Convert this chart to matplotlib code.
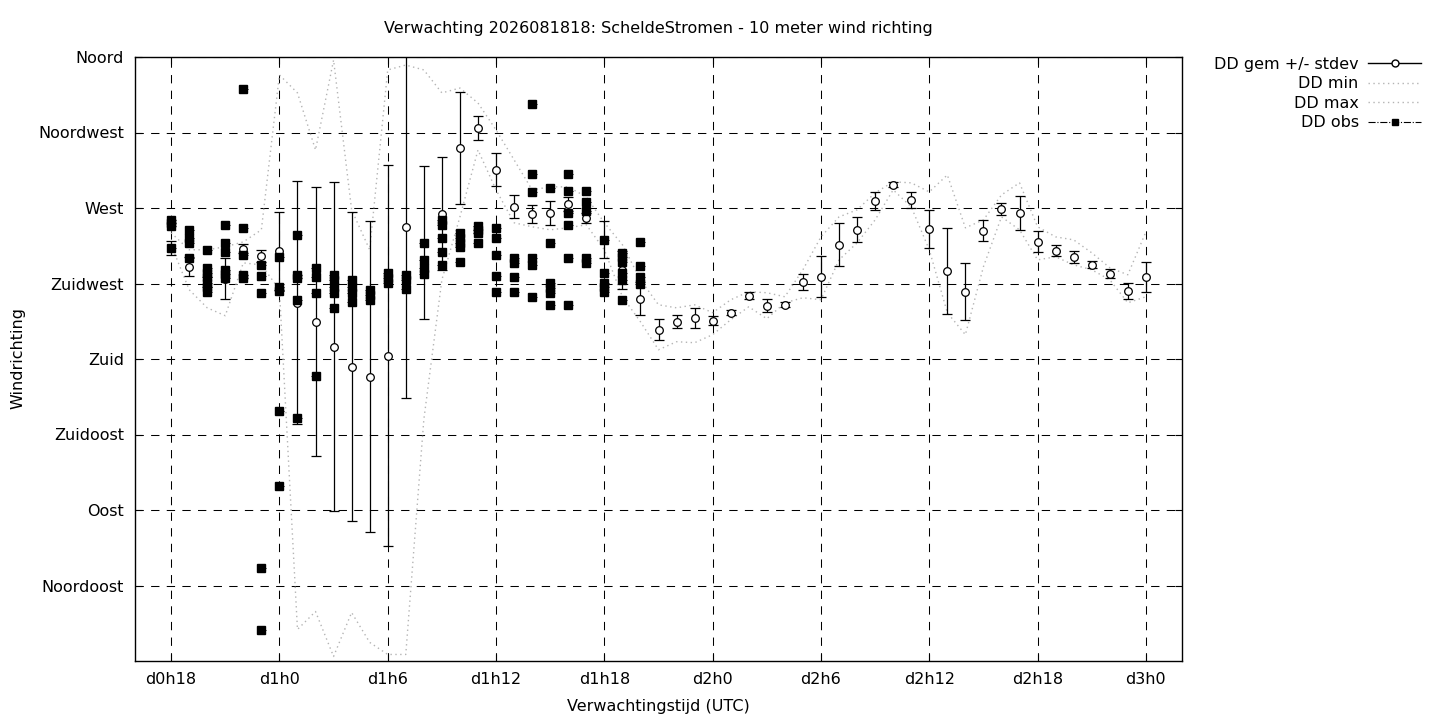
"""Gnuplot-style wind direction forecast chart (ScheldeStromen)."""

import matplotlib

matplotlib.use("Agg")

import matplotlib.pyplot as plt
from matplotlib.lines import Line2D

# forecast hours since d0h0
hours = list(range(18, 73))

# mean wind direction (degrees) and stdev
dd_mean = [
    246.3, 235.0, 226.0, 227.8, 245.7, 241.5, 244.5, 213.5, 202.2, 187.3,
    175.4, 169.5, 182.0, 258.8, 249.2, 266.5, 305.8, 317.7, 292.7, 270.7,
    266.5, 267.1, 272.5, 264.1, 251.0, 233.2, 215.9, 197.4, 202.2, 204.6,
    202.8, 207.6, 217.7, 211.7, 212.3, 226.0, 229.0, 248.1, 257.0, 274.3,
    283.8, 274.9, 257.6, 232.6, 220.1, 256.4, 269.5, 267.1, 249.8, 244.5,
    240.9, 236.1, 230.8, 220.7, 229.0,
]
dd_std = [
    4.2, 5.7, 3.0, 12.2, 2.7, 3.6, 23.2, 72.3, 80.1, 98.0,
    92.0, 92.6, 113.7, 101.8, 45.6, 33.6, 33.6, 7.1, 9.8, 6.8,
    5.4, 7.1, 4.2, 3.0, 11.0, 11.3, 9.8, 6.3, 3.9, 6.0,
    2.7, 1.5, 2.1, 3.9, 1.5, 4.8, 12.2, 12.8, 7.4, 5.4,
    1.5, 4.8, 11.3, 25.6, 17.0, 6.3, 3.6, 10.1, 6.3, 3.3,
    3.6, 2.1, 2.7, 4.8, 8.9,
]
dd_min = [
    248.1, 221.3, 210.5, 205.8, 237.3, 236.1, 221.3, 18.8, 29.5, 2.7,
    28.9, 11.1, 3.9, 3.9, 143.9, 227.2, 264.7, 304.6, 280.8, 261.2,
    258.8, 257.0, 258.2, 260.0, 245.1, 217.1, 202.2, 185.5, 190.3, 189.7,
    194.5, 203.4, 211.1, 204.0, 213.5, 216.5, 215.3, 239.1, 249.2, 262.9,
    280.8, 270.7, 245.1, 207.6, 194.5, 235.0, 264.7, 257.0, 239.1, 240.9,
    236.1, 233.2, 227.2, 213.5, 217.1,
]
dd_max = [
    255.2, 245.1, 245.1, 246.9, 249.8, 257.0, 349.3, 338.6, 304.6, 358.2,
    268.9, 245.1, 352.3, 355.2, 352.3, 338.6, 341.5, 332.6, 316.5, 298.7,
    280.8, 282.6, 282.6, 276.6, 261.2, 248.1, 227.2, 212.3, 210.5, 212.3,
    207.6, 215.3, 220.1, 219.5, 217.1, 233.2, 252.8, 264.7, 268.9, 279.0,
    285.6, 285.0, 279.6, 289.7, 258.2, 262.9, 277.8, 285.0, 258.8, 252.8,
    251.0, 243.3, 234.4, 230.2, 255.8,
]

# observations (degrees), grouped per hour
obs_hours = list(range(18, 45))
obs_dd = [
    [262.9, 261.2, 259.4, 246.3],
    [257.0, 252.2, 249.2, 240.3],
    [245.1, 234.4, 231.4, 229.0, 225.4, 223.0, 220.1],
    [260.0, 249.2, 243.9, 233.2, 230.8, 228.4],
    [340.9, 258.2, 242.1, 230.2, 228.4],
    [236.1, 229.6, 219.5, 55.7, 18.2],
    [240.9, 223.0, 220.7, 149.2, 104.6],
    [254.0, 230.2, 228.4, 215.3, 145.0],
    [234.4, 229.0, 219.5, 170.0],
    [230.2, 227.2, 223.0, 219.5, 210.5],
    [227.2, 223.0, 219.5, 214.1],
    [221.3, 218.3, 215.3],
    [231.4, 228.4, 225.4],
    [230.2, 227.2, 221.9],
    [249.2, 239.1, 234.4, 230.8],
    [262.9, 260.0, 252.2, 243.9, 236.1],
    [255.2, 252.2, 249.2, 246.9, 237.9],
    [259.4, 257.0, 255.2, 249.2],
    [258.2, 252.2, 242.1, 229.6, 220.1],
    [240.3, 237.3, 229.0, 220.1],
    [332.0, 290.3, 279.6, 240.3, 236.1, 217.1],
    [282.0, 249.2, 225.4, 222.5, 219.5, 212.3],
    [290.3, 280.2, 267.1, 260.0, 240.3, 212.3],
    [280.2, 273.7, 268.3, 240.3, 237.3],
    [251.0, 231.4, 225.4, 223.0, 220.1],
    [243.3, 240.9, 237.9, 231.4, 227.2, 215.3],
    [249.8, 235.5, 229.0, 224.8],
]

x_ticks = list(range(18, 73, 6))
x_labels = ["d0h18", "d1h0", "d1h6", "d1h12", "d1h18", "d2h0", "d2h6", "d2h12", "d2h18", "d3h0"]
y_ticks = [45, 90, 135, 180, 225, 270, 315, 360]
y_labels = ["Noordoost", "Oost", "Zuidoost", "Zuid", "Zuidwest", "West", "Noordwest", "Noord"]

plt.rcParams["font.family"] = ["DejaVu Sans"]
plt.rcParams["font.size"] = 11.5

fig = plt.figure(figsize=(14.4, 7.2), dpi=100)
ax = fig.add_axes([135 / 1440, 59 / 720, 1047 / 1440, 604 / 720])

grey = "#b4b4b4"
ax.plot(hours, dd_min, color=grey, lw=1.0, ls=(0, (1, 2.5)), zorder=2)
ax.plot(hours, dd_max, color=grey, lw=1.0, ls=(0, (1, 2.5)), zorder=2)

ax.errorbar(
    hours, dd_mean, yerr=dd_std, fmt="o", ms=5.5, mfc="white", mec="black", mew=0.9,
    ecolor="black", elinewidth=0.9, capsize=3.5, capthick=0.9, zorder=3,
)

obs_x = [h for h, vals in zip(obs_hours, obs_dd) for _ in vals]
obs_y = [v for vals in obs_dd for v in vals]
ax.errorbar(
    obs_x, obs_y, xerr=0.25, fmt="s", ms=5.5, mfc="black", mec="black",
    ecolor="black", elinewidth=0.7, capsize=0, zorder=4,
)

ax.set_xlim(16, 74)
ax.set_ylim(0, 360)
ax.set_xticks(x_ticks)
ax.set_xticklabels(x_labels)
ax.set_yticks(y_ticks)
ax.set_yticklabels(y_labels)
ax.tick_params(direction="in", length=5, width=0.8, top=True, right=True, pad=8)
ax.grid(True, color="black", lw=0.75, ls=(0, (8, 7)))
for spine in ax.spines.values():
    spine.set_linewidth(1.0)

fig.text(658 / 1440, 1 - 29 / 720, "Verwachting 2026081818: ScheldeStromen - 10 meter wind richting",
         ha="center", va="center")
fig.text(658 / 1440, 1 - 706 / 720, "Verwachtingstijd (UTC)", ha="center", va="center")
fig.text(18 / 1440, 1 - 358 / 720, "Windrichting", ha="center", va="center", rotation=90)

handles = [
    Line2D([], [], color="black", lw=1.0, marker="o", ms=5, mfc="white", mec="black"),
    Line2D([], [], color=grey, lw=1.0, ls=(0, (1, 2.5))),
    Line2D([], [], color=grey, lw=1.0, ls=(0, (1, 2.5))),
    Line2D([], [], color="black", lw=0.8, ls="-.", marker="s", ms=5, mfc="black"),
]
labels = ["DD gem +/- stdev", "DD min", "DD max", "DD obs"]
fig.legend(
    handles, labels, loc="upper right", bbox_to_anchor=(1421 / 1440, 1 - 57 / 720),
    markerfirst=False, frameon=False, handlelength=3.3, handletextpad=0.6,
    labelspacing=0.28, borderaxespad=0, borderpad=0,
)

fig.savefig("out.png", dpi=100)
plt.close(fig)
